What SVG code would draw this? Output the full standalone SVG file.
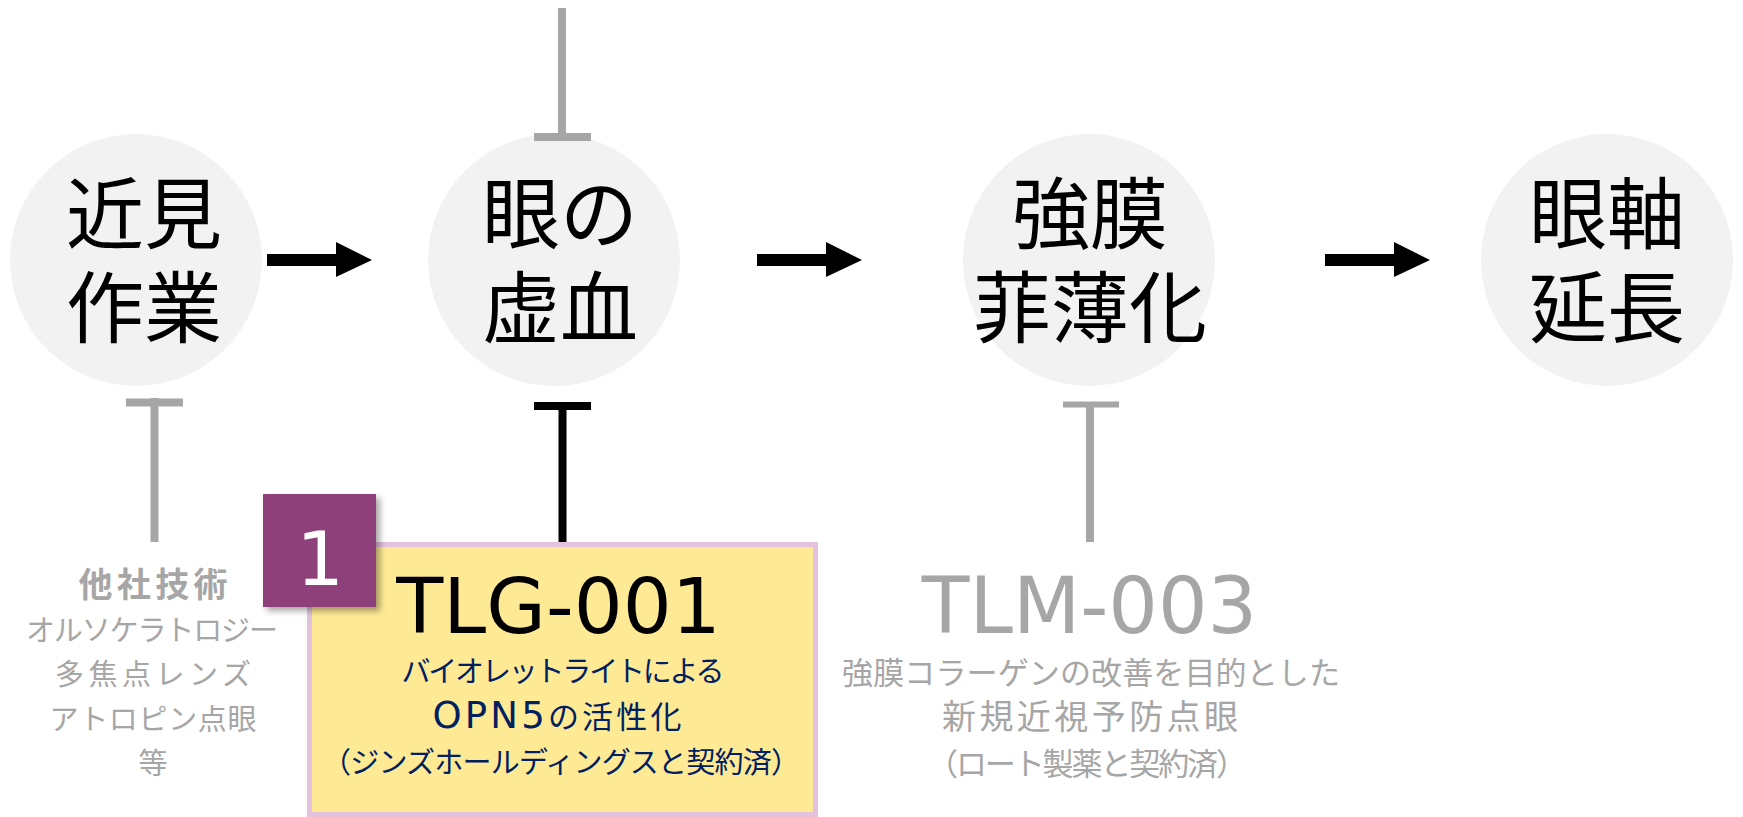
<svg xmlns="http://www.w3.org/2000/svg" width="1743" height="817" viewBox="0 0 1743 817">
<style>
.circ{fill:#f2f2f2}
.ctext{font-family:"Noto Sans CJK JP","Noto Sans",sans-serif;font-size:78px;fill:#000;text-anchor:middle}
.jp{font-family:"Noto Sans CJK JP","Noto Sans",sans-serif;text-anchor:middle}
.gray{fill:#a6a6a6}
.navy{fill:#002060}
.code{font-family:"DejaVu Sans","Noto Sans",sans-serif;text-anchor:middle}
.arrow{fill:#000}
.inhG{stroke:#a6a6a6;stroke-width:8;fill:none}
.inhB{stroke:#000;stroke-width:8;fill:none}
</style>
<defs>
<filter id="shadow" x="-20%" y="-20%" width="150%" height="150%">
<feDropShadow dx="4" dy="4" stdDeviation="3" flood-color="#000" flood-opacity="0.35"/>
</filter>
</defs>
<rect width="1743" height="817" fill="#fff"/>

<g id="node-kinken">
<circle class="circ" cx="136" cy="260" r="126"/>
<text class="ctext"><tspan x="144" y="243">近見</tspan><tspan x="144" y="337">作業</tspan></text>
</g>
<g id="node-kyoketsu">
<circle class="circ" cx="554" cy="260" r="126"/>
<text class="ctext"><tspan x="560" y="243">眼の</tspan><tspan x="560" y="337">虚血</tspan></text>
</g>
<g id="node-kyomaku">
<circle class="circ" cx="1089" cy="260" r="126"/>
<text class="ctext"><tspan x="1090" y="243">強膜</tspan><tspan x="1090" y="337">菲薄化</tspan></text>
</g>
<g id="node-gankujiku">
<circle class="circ" cx="1607" cy="260" r="126"/>
<text class="ctext"><tspan x="1607" y="243">眼軸</tspan><tspan x="1607" y="337">延長</tspan></text>
</g>

<g id="connectors">
<path class="arrow" d="M267,254 H336 V242 L372,260 L336,277 V266 H267 Z"/>
<path class="arrow" d="M757,254 H826 V242 L862,260 L826,277 V266 H757 Z"/>
<path class="arrow" d="M1325,254 H1394 V242 L1430,260 L1394,277 V266 H1325 Z"/>
<path class="inhG" d="M562,8 V141 M534,137 H591"/>
<path class="inhG" d="M154.5,398 V542 M126,402.5 H183"/>
<path class="inhB" d="M562.5,402 V542 M534,406 H591"/>
<path class="inhG" d="M1090,402 V542"/>
<path d="M1063,404.5 H1119" stroke="#a6a6a6" stroke-width="6" fill="none"/>
</g>

<g id="node-other">
<text class="jp gray" x="153" y="597" font-size="34" font-weight="bold" textLength="149" lengthAdjust="spacing">他社技術</text>
<text class="jp gray" x="152" y="641" font-size="29" textLength="252" lengthAdjust="spacing">オルソケラトロジー</text>
<text class="jp gray" x="153" y="685" font-size="29" textLength="196" lengthAdjust="spacing">多焦点レンズ</text>
<text class="jp gray" x="153" y="730" font-size="29" textLength="207" lengthAdjust="spacing">アトロピン点眼</text>
<text class="jp gray" x="153" y="774" font-size="29">等</text>
</g>

<g id="node-tlg001">
<rect x="309.5" y="544.5" width="506" height="270" fill="#fee995" stroke="#e2c2dc" stroke-width="5"/>
<text class="code" x="558.5" y="633" font-size="77" fill="#000">TLG-001</text>
<text class="jp navy" x="563" y="682" font-size="29" textLength="323" lengthAdjust="spacing">バイオレットライトによる</text>
<text class="jp navy" x="557" y="728" font-size="31" textLength="249" lengthAdjust="spacing"><tspan font-family="DejaVu Sans, sans-serif" font-size="37">OPN5</tspan>の活性化</text>
<text class="jp navy" x="561" y="773" font-size="29" textLength="478" lengthAdjust="spacing">（ジンズホールディングスと契約済）</text>
</g>

<g id="badge-1">
<rect x="263" y="494" width="113" height="113" fill="#8e407a" filter="url(#shadow)"/>
<text x="320" y="585" font-family="DejaVu Sans, sans-serif" font-size="75" fill="#fff" text-anchor="middle">1</text>
</g>

<g id="node-tlm003">
<text class="code gray" x="1089.5" y="633" font-size="78">TLM-003</text>
<text class="jp gray" x="1091" y="684" font-size="31" textLength="498" lengthAdjust="spacing">強膜コラーゲンの改善を目的とした</text>
<text class="jp gray" x="1090" y="729" font-size="34" textLength="296" lengthAdjust="spacing">新規近視予防点眼</text>
<text class="jp gray" x="1087" y="775" font-size="31" textLength="320" lengthAdjust="spacing">（ロート製薬と契約済）</text>
</g>
</svg>
